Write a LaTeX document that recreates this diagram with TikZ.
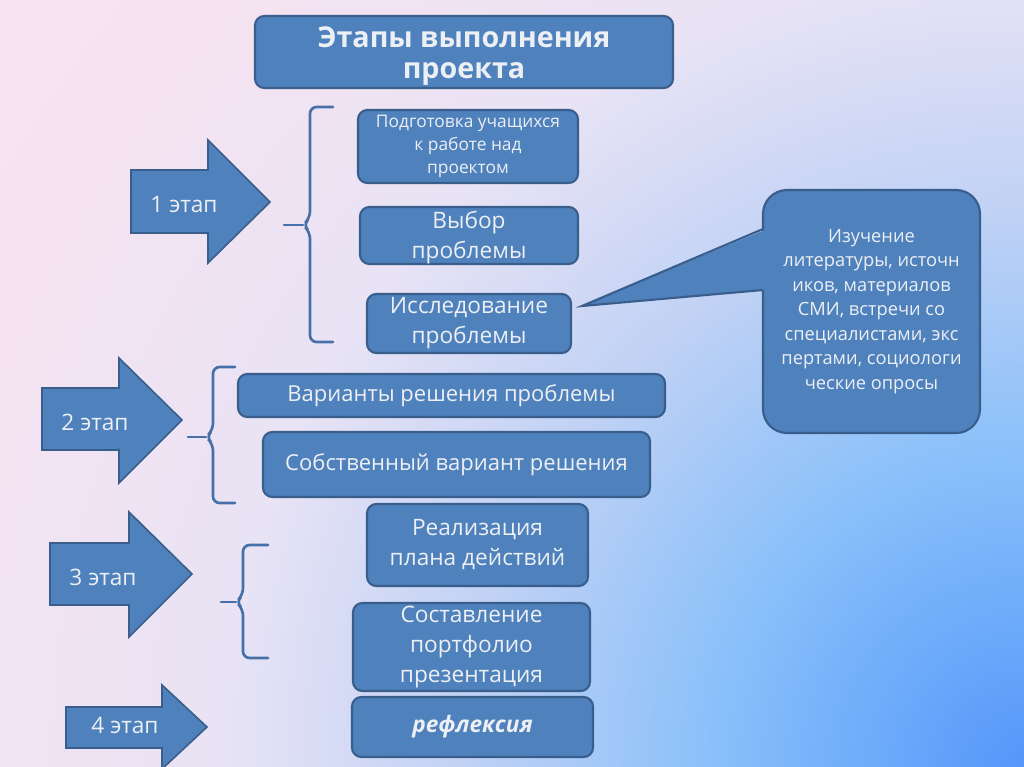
\documentclass[tikz,border=0pt]{standalone}
\usepackage{fontspec}
\setmainfont{Open Sans}
\usetikzlibrary{positioning, shadings}

\definecolor{boxfill}{RGB}{79,129,189}
\definecolor{boxline}{RGB}{58,94,140}
\definecolor{boxtext}{RGB}{236,239,243}
\definecolor{braceline}{RGB}{72,112,168}

% slide background: blue glow from the lower right corner
\pgfdeclareradialshading{slidebg}{\pgfpoint{0bp}{0bp}}{%
  rgb(0bp)=(0.33,0.59,0.98); rgb(5.8bp)=(0.53,0.75,0.98);
  rgb(10.6bp)=(0.75,0.82,0.96); rgb(15.4bp)=(0.91,0.89,0.96);
  rgb(21bp)=(0.96,0.89,0.945); rgb(25bp)=(0.97,0.895,0.95); rgb(50bp)=(0.97,0.895,0.95)}

\tikzset{
  stagebox/.style={draw=boxline, fill=boxfill, line width=1.6pt, rounded corners=7pt,
    text=boxtext, align=center, inner sep=0pt, font=\fontsize{17}{22.5}\selectfont},
  boxsize/.style 2 args={minimum width=#1*0.75pt, minimum height=#2*0.75pt},
  stagearrow/.style={draw=boxline, fill=boxfill, line width=1.2pt, line join=miter},
  stagelabel/.style={text=boxtext, inner sep=0pt, font=\fontsize{17}{20}\selectfont},
  bracket/.style={draw=braceline, line width=2pt, line cap=round, rounded corners=5pt},
}

\begin{document}
\begin{tikzpicture}[x=0.75pt, y=-0.75pt]

    % Background
    \useasboundingbox (0,0) rectangle (1024,767);
    \begin{scope}
        \clip (0,0) rectangle (1024,767);
        \shade[shading=slidebg] (1024,767) circle (1300);
    \end{scope}

    % 1. Title
    \node[stagebox, boxsize={418}{72}, font=\bfseries\fontsize{21.5}{23.5}\selectfont]
        (title) at (464,52) {\rule{0pt}{22pt}Этапы выполнения\\проекта};

    % 2. Stage one boxes
    \node[stagebox, boxsize={220}{73}, font=\fontsize{13}{17}\selectfont]
        (prep) at (468,146.5) {Подготовка учащихся\\к работе над\\проектом};
    \node[stagebox, boxsize={218}{57}] (choice) at (469,235.5) {\rule{0pt}{16pt}Выбор\\проблемы};
    \node[stagebox, boxsize={204}{59}] (research) at (469,323.5) {Исследование\\проблемы};

    % 3. Stage two boxes
    \node[stagebox, boxsize={427}{43}, font=\fontsize{16.5}{22.5}\selectfont]
        (variants) at (451.5,395.5) {Варианты решения проблемы};
    \node[stagebox, boxsize={387}{65}, font=\fontsize{16.5}{22.5}\selectfont]
        (own) at (456.5,464.5) {Собственный вариант решения};

    % 4. Stage three and four boxes
    \node[stagebox, boxsize={221}{82}] (realize) at (477.5,545) {Реализация\\плана действий};
    \node[stagebox, boxsize={237}{88}] (portfolio) at (471.5,647) {Составление\\портфолио\\презентация};
    \node[stagebox, boxsize={241}{60}, font=\bfseries\itshape\fontsize{17}{22.5}\selectfont]
        (reflect) at (472.5,727) {рефлексия};

    % 5. Callout with its pointer
    \node[stagebox, boxsize={217}{243}, rounded corners=18pt, font=\fontsize{13.7}{18.4}\selectfont]
        (study) at (871.5,311.5) {Изучение\\литературы, источн\\иков, материалов\\СМИ, встречи со\\специалистами, экс\\пертами, социологи\\ческие опросы};
    \coordinate (tip) at (582,306);
    \coordinate (cb1) at (763,229);
    \coordinate (cb2) at (763,290);
    \fill[boxfill] (767,229) -- (tip) -- (767,290) -- cycle;
    \draw[boxline, line width=1.6pt, line join=miter] (cb1) -- (tip) -- (cb2);

    % 6. Stage arrows
    \foreach \xl/\xn/\yt/\yb/\yht/\yhb/\xtip/\ytip/\xlab/\ylab/\num in {
        131/208/170/233/140/263/270/202/184/205/1,
        42/119/388/450/358/483/182/420/95/422/2,
        50/129/543/605/512/637/192/574/103/577/3,
        66/162/707/748/685/769/207/727/125/725/4}
    {
        \draw[stagearrow] (\xl,\yt) -- (\xn,\yt) -- (\xn,\yht) -- (\xtip,\ytip)
            -- (\xn,\yhb) -- (\xn,\yb) -- (\xl,\yb) -- cycle;
        \node[stagelabel] (stage\num) at (\xlab,\ylab) {\num~этап};
    }

    % 7. Brackets
    \draw[bracket] (333,107) -- (310,107) -- (310,218) -- (303,225) -- (310,232) -- (310,342) -- (333,342);
    \draw[bracket, rounded corners=0pt] (303,225) -- (284,225);
    \draw[bracket] (235,367) -- (213,367) -- (213,430) -- (206,437) -- (213,444) -- (213,503) -- (235,503);
    \draw[bracket, rounded corners=0pt] (206,437) -- (188,437);
    \draw[bracket] (268,545) -- (243,545) -- (243,595) -- (236,602) -- (243,609) -- (243,658) -- (268,658);
    \draw[bracket, rounded corners=0pt] (236,602) -- (221,602);

\end{tikzpicture}
\end{document}
